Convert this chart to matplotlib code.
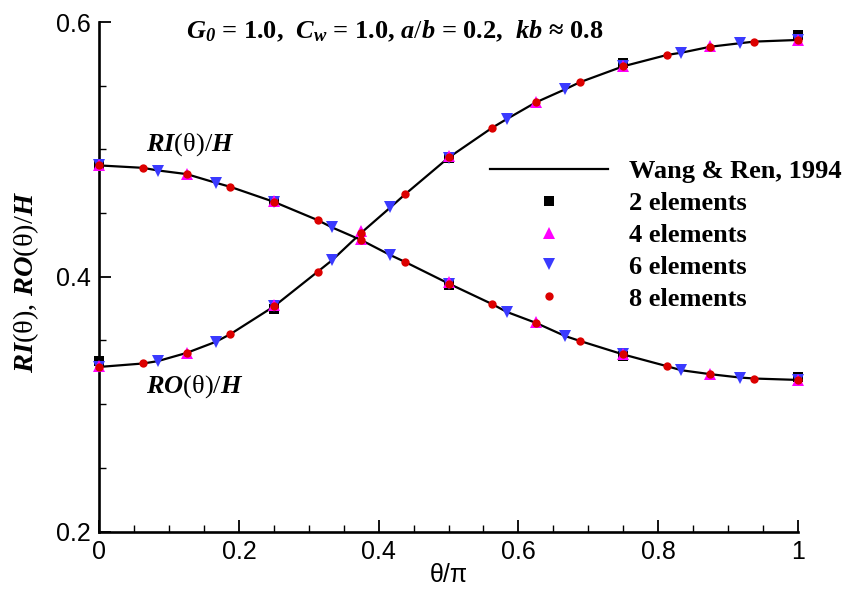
import matplotlib
matplotlib.use("Agg")
import matplotlib.pyplot as plt
from matplotlib.lines import Line2D
from matplotlib.font_manager import FontProperties
from matplotlib.ticker import MultipleLocator, FixedLocator, FixedFormatter

# ---------------- data ----------------
x_curve = [0, 1/16, 1/12, 1/8, 1/6, 3/16, 1/4, 5/16, 1/3, 3/8, 5/12, 7/16, 1/2,
           9/16, 7/12, 5/8, 2/3, 11/16, 3/4, 13/16, 5/6, 7/8, 11/12, 15/16, 1]
ri_curve = [0.4874, 0.4855, 0.4835, 0.4806, 0.4738, 0.4706, 0.4588, 0.4445, 0.4387,
            0.4288, 0.4170, 0.4117, 0.3947, 0.3785, 0.3724, 0.3638, 0.3535, 0.3497,
            0.3390, 0.3298, 0.3266, 0.3235, 0.3209, 0.3201, 0.3190]
ro_curve = [0.3292, 0.3319, 0.3337, 0.3402, 0.3489, 0.3549, 0.3767, 0.4039, 0.4130,
            0.4345, 0.4544, 0.4646, 0.4935, 0.5170, 0.5238, 0.5369, 0.5471, 0.5526,
            0.5652, 0.5741, 0.5759, 0.5806, 0.5833, 0.5846, 0.5859]

x_2el = [0, 0.25, 0.5, 0.75, 1]
ri_2el = [0.4874, 0.4583, 0.3934, 0.3378, 0.3210]
ro_2el = [0.3340, 0.3745, 0.4929, 0.5676, 0.5895]

x_4el = [0, 1/8, 2/8, 3/8, 4/8, 5/8, 6/8, 7/8, 1]
ri_4el = [0.4874, 0.4810, 0.4595, 0.4295, 0.3955, 0.3645, 0.3395, 0.3240, 0.3193]
ro_4el = [0.3300, 0.3402, 0.3775, 0.4360, 0.4945, 0.5375, 0.5655, 0.5812, 0.5862]

x_6el = [0, 1/12, 2/12, 3/12, 4/12, 5/12, 6/12, 7/12, 8/12, 9/12, 10/12, 11/12, 1]
ri_6el = [0.4874, 0.4832, 0.4738, 0.4588, 0.4387, 0.4170, 0.3947, 0.3724, 0.3536,
          0.3390, 0.3266, 0.3209, 0.3188]
ro_6el = [0.3292, 0.3337, 0.3489, 0.3767, 0.4130, 0.4544, 0.4935, 0.5238, 0.5471,
          0.5652, 0.5759, 0.5833, 0.5855]

x_8el = [k / 16 for k in range(17)]
ri_8el = [0.4874, 0.4855, 0.4806, 0.4706, 0.4588, 0.4445, 0.4288, 0.4117, 0.3947,
          0.3785, 0.3638, 0.3497, 0.3390, 0.3298, 0.3235, 0.3201, 0.3190]
ro_8el = [0.3292, 0.3319, 0.3402, 0.3549, 0.3767, 0.4039, 0.4345, 0.4646, 0.4937,
          0.5170, 0.5369, 0.5526, 0.5652, 0.5741, 0.5806, 0.5846, 0.5859]

x_ticks = [0, 0.2, 0.4, 0.6, 0.8, 1]
x_ticklabels = ["0", "0.2", "0.4", "0.6", "0.8", "1"]
y_ticks = [0.2, 0.4, 0.6]
y_ticklabels = ["0.2", "0.4", "0.6"]

legend_labels = ["Wang & Ren, 1994", "2 elements", "4 elements", "6 elements", "8 elements"]

# ---------------- style ----------------
plt.rcParams["mathtext.fontset"] = "custom"
plt.rcParams["mathtext.rm"] = "Liberation Serif"
plt.rcParams["mathtext.it"] = "Liberation Serif:italic:bold"
plt.rcParams["mathtext.bf"] = "Liberation Serif:bold"
plt.rcParams["mathtext.sf"] = "Liberation Serif:italic:bold"

W, H = 853, 589
fig = plt.figure(figsize=(W / 100, H / 100), dpi=100)
ax_l, ax_r, ax_t, ax_b = 99.3, 797.8, 22.0, 531.5
ax = fig.add_axes([ax_l / W, 1 - ax_b / H, (ax_r - ax_l) / W, (ax_b - ax_t) / H])

c_sq = "black"
c_tri = "#ff00ff"
c_dn = "#3a3aff"
c_dot = "#dc0000"

ax.plot(x_curve, ri_curve, color="black", lw=1.6, zorder=2)
ax.plot(x_curve, ro_curve, color="black", lw=1.6, zorder=2)

mk = dict(ls="none", clip_on=False, markeredgewidth=0)
for ys in (ri_2el, ro_2el):
    ax.plot(x_2el, ys, marker="s", ms=6.5, color=c_sq, zorder=3, **mk)
for ys in (ri_6el, ro_6el):
    ax.plot(x_6el, ys, marker="v", ms=9, color=c_dn, zorder=4, **mk)
for ys in (ri_4el, ro_4el):
    ax.plot(x_4el, ys, marker="^", ms=9, color=c_tri, zorder=5, **mk)
for ys in (ri_8el, ro_8el):
    ax.plot(x_8el, ys, marker="o", ms=6, color=c_dot, zorder=6, **mk)

ax.set_xlim(0, 1)
ax.set_ylim(0.2, 0.6)
for s in ("top", "right"):
    ax.spines[s].set_visible(False)
for s in ("left", "bottom"):
    ax.spines[s].set_linewidth(1.9)

ax.xaxis.set_major_locator(FixedLocator(x_ticks))
ax.xaxis.set_major_formatter(FixedFormatter(x_ticklabels))
ax.yaxis.set_major_locator(FixedLocator(y_ticks))
ax.yaxis.set_major_formatter(FixedFormatter(y_ticklabels))
ax.xaxis.set_minor_locator(MultipleLocator(0.05))
ax.yaxis.set_minor_locator(MultipleLocator(0.05))
ax.tick_params(which="major", direction="in", length=8.6, width=1.3, labelsize=18, pad=6)
ax.tick_params(which="minor", direction="in", length=5, width=1.0)
for lab in ax.get_xticklabels() + ax.get_yticklabels():
    lab.set_family("Liberation Sans")

ax.set_xlabel("θ/π", fontsize=18, family="Liberation Sans")
ax.xaxis.label.set_va("center")
ax.xaxis.set_label_coords(0.5, (ax_b - 575) / (ax_b - ax_t))

ax.set_ylabel("$RI$(θ), $RO$(θ)$/H$", fontsize=20.5, family="Liberation Serif")
ax.yaxis.label.set_va("center")
ax.yaxis.set_label_coords((26 - ax_l) / (ax_r - ax_l), (ax_b - 282) / (ax_b - ax_t))

serif_b = dict(family="Liberation Serif", fontsize=19)
fig.text(394.7 / W, 1 - 31 / H,
         r"$G_{\mathsf{0}}$ = 1.0,  $C_w$ = 1.0, $a/b$ = 0.2,  $kb$ ≈ 0.8",
         ha="center", va="center", fontweight="bold", **serif_b)

ax.text(0.0669, 0.504, "$RI$(θ)$/H$", ha="left", va="center", **serif_b)
ax.text(0.0669, 0.3135, "$RO$(θ)$/H$", ha="left", va="center", **serif_b)

handles = [
    Line2D([], [], color="black", lw=1.6),
    Line2D([], [], marker="s", ms=6.5, color=c_sq, ls="none", markeredgewidth=0),
    Line2D([], [], marker="^", ms=9, color=c_tri, ls="none", markeredgewidth=0),
    Line2D([], [], marker="v", ms=9, color=c_dn, ls="none", markeredgewidth=0),
    Line2D([], [], marker="o", ms=6, color=c_dot, ls="none", markeredgewidth=0),
]
leg = ax.legend(handles, legend_labels, loc="upper left",
                bbox_to_anchor=(490 / W, 1 - 159.5 / H), bbox_transform=fig.transFigure,
                frameon=False, prop=FontProperties(family="Liberation Serif", weight="bold", size=19),
                handlelength=4.47, handletextpad=0.8, borderpad=0, borderaxespad=0,
                labelspacing=0.32, numpoints=1)

fig.savefig("out.png", dpi=100)
